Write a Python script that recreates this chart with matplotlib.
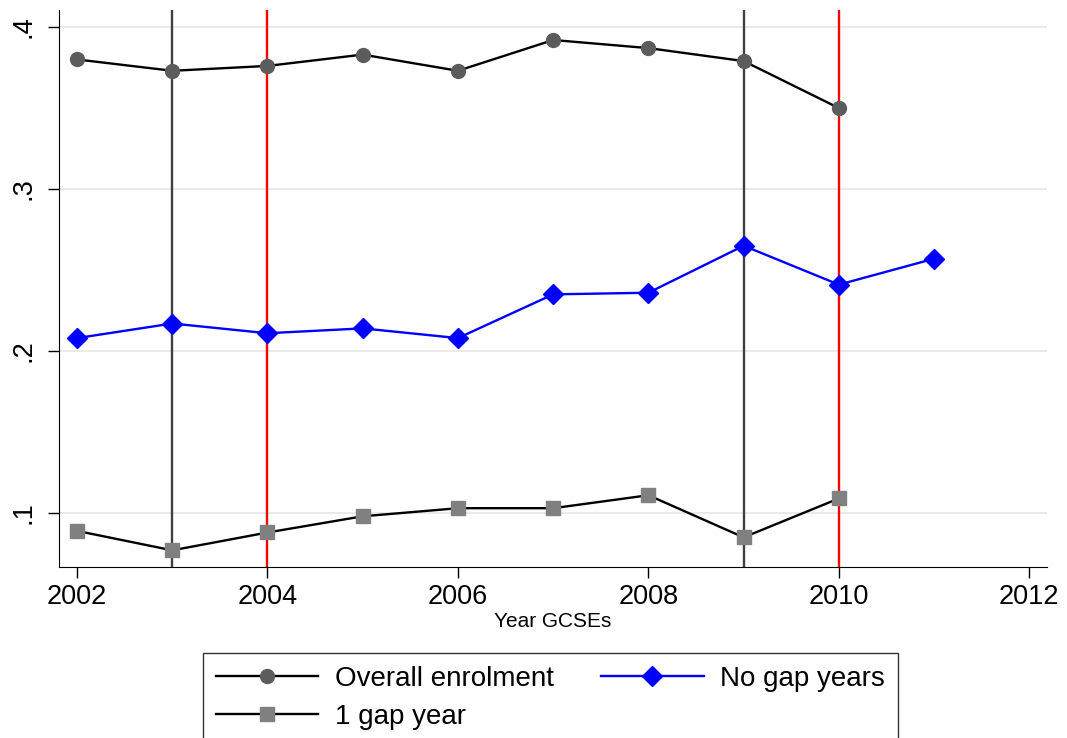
import matplotlib.pyplot as plt
from matplotlib.lines import Line2D

plt.rcParams["font.family"] = ["Liberation Sans", "DejaVu Sans"]

years = [2002, 2003, 2004, 2005, 2006, 2007, 2008, 2009, 2010]
years_nogap = [2002, 2003, 2004, 2005, 2006, 2007, 2008, 2009, 2010, 2011]
overall = [0.380, 0.373, 0.376, 0.383, 0.373, 0.392, 0.387, 0.379, 0.350]
no_gap = [0.208, 0.217, 0.211, 0.214, 0.208, 0.235, 0.236, 0.265, 0.241, 0.257]
one_gap = [0.089, 0.077, 0.088, 0.098, 0.103, 0.103, 0.111, 0.085, 0.109]
gray_lines = [2003, 2009]
red_lines = [2004, 2010]

fig = plt.figure(figsize=(10.67, 7.38), dpi=100)
ax = fig.add_axes([0.0553, 0.2317, 0.926, 0.7547])

for y in [0.1, 0.2, 0.3, 0.4]:
    ax.axhline(y, color="#eaeaea", lw=1.5, zorder=0)
for x in gray_lines:
    ax.axvline(x, color="#404040", lw=1.7, zorder=1)
for x in red_lines:
    ax.axvline(x, color="#ff0000", lw=1.7, zorder=1)

ax.plot(years, overall, color="black", lw=1.7, marker="o", ms=10,
        mfc="#5c5c5c", mec="#5c5c5c", zorder=3, label="Overall enrolment")
ax.plot(years_nogap, no_gap, color="#0000ff", lw=1.7, marker="D", ms=10,
        mfc="#0000ff", mec="#0000ff", zorder=3, label="No gap years")
ax.plot(years, one_gap, color="black", lw=1.7, marker="s", ms=9.5,
        mfc="#808080", mec="#808080", zorder=3, label="1 gap year")

ax.set_xlim(2001.811, 2012.186)
ax.set_ylim(0.0667, 0.4105)
ax.set_xticks([2002, 2004, 2006, 2008, 2010, 2012])
ax.set_yticks([0.1, 0.2, 0.3, 0.4])
ax.set_yticklabels([".1", ".2", ".3", ".4"], rotation=90, va="center")
ax.tick_params(axis="both", labelsize=19.5, length=8, width=1, direction="out")
ax.tick_params(axis="y", pad=8)
ax.tick_params(axis="x", pad=4)
ax.spines["top"].set_visible(False)
ax.spines["right"].set_visible(False)
ax.set_xlabel("Year GCSEs", fontsize=15, labelpad=2)

handles = [
    Line2D([], [], color="black", lw=1.7, marker="o", ms=10, mfc="#5c5c5c", mec="#5c5c5c"),
    Line2D([], [], color="black", lw=1.7, marker="s", ms=9.5, mfc="#808080", mec="#808080"),
    Line2D([], [], color="#0000ff", lw=1.7, marker="D", ms=10, mfc="#0000ff", mec="#0000ff"),
]
labels = ["Overall enrolment", "1 gap year", "No gap years"]
leg = fig.legend(handles, labels, loc="upper left", bbox_to_anchor=(203 / 1067, 1 - 653 / 738),
                 ncol=2, fontsize=20, frameon=True, fancybox=False, edgecolor="black",
                 handlelength=3.7, handletextpad=0.6, columnspacing=1.7,
                 borderpad=0.45, labelspacing=0.45, borderaxespad=0)
leg.get_frame().set_linewidth(1.0)

fig.savefig("out.png", dpi=100)
